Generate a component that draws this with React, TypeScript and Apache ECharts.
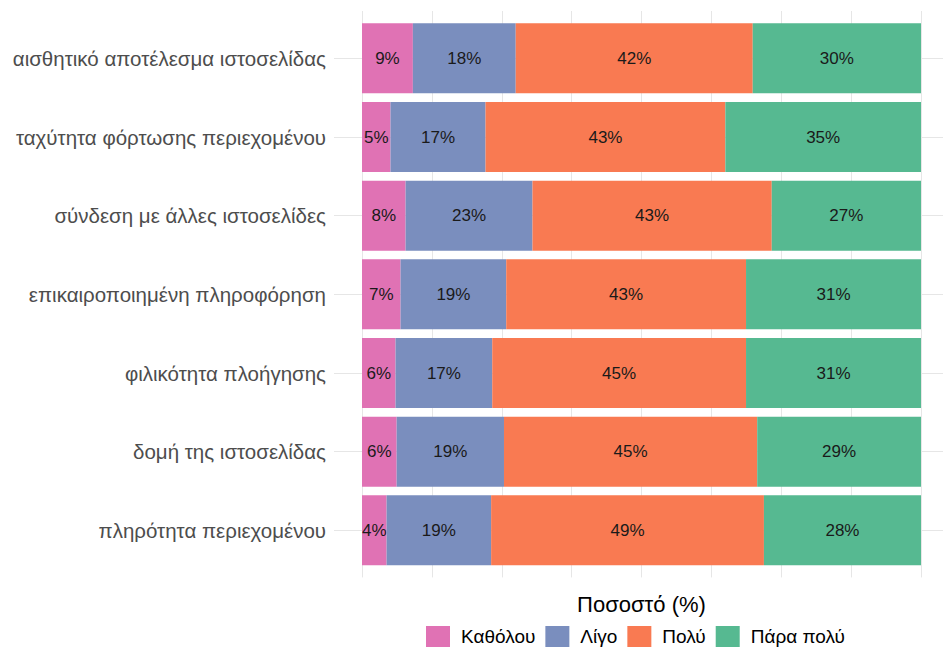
import React, { useEffect, useRef } from "react";
import * as echarts from "echarts";

const categories = [
  "αισθητικό αποτέλεσμα ιστοσελίδας",
  "ταχύτητα φόρτωσης περιεχομένου",
  "σύνδεση με άλλες ιστοσελίδες",
  "επικαιροποιημένη πληροφόρηση",
  "φιλικότητα πλοήγησης",
  "δομή της ιστοσελίδας",
  "πληρότητα περιεχομένου",
];

const levels = ["Καθόλου", "Λίγο", "Πολύ", "Πάρα πολύ"];

const katholou = [9.1, 5.1, 7.8, 6.9, 6.0, 6.2, 4.4];
const ligo = [18.4, 17.0, 22.7, 18.9, 17.3, 19.2, 18.7];
const poly = [42.4, 42.9, 42.8, 42.9, 45.4, 45.3, 48.8];
const paraPoly = [30.1, 35.0, 26.7, 31.3, 31.3, 29.3, 28.1];

const seriesValues = [katholou, ligo, poly, paraPoly];
const colors = ["#E072B4", "#7A8EBE", "#F97A52", "#56B991"];

const xTitle = "Ποσοστό (%)";

const FONT = "'Liberation Sans', Arial, sans-serif";

export default function App() {
  const ref = useRef<HTMLDivElement>(null);
  useEffect(() => {
    if (!ref.current) return;
    const chart = echarts.init(ref.current, null, { renderer: "svg" });
    const gridLineColor = "#e6e6e6";
    const option: any = {
      animation: false,
      backgroundColor: "#ffffff",
      textStyle: { fontFamily: FONT },
      grid: [
        { left: 334, right: 0, top: 19, height: 550.7, containLabel: false },
        { left: 362, width: 559, top: 19, height: 550.7, containLabel: false },
        { left: 362, width: 559, top: 11, height: 566.4, containLabel: false },
      ],
      xAxis: [
        { gridIndex: 0, type: "value", min: 0, max: 1, show: false },
        { gridIndex: 1, type: "value", min: 0, max: 100, show: false },
        {
          gridIndex: 2,
          type: "value",
          min: 0,
          max: 100,
          interval: 12.5,
          axisLine: { show: false },
          axisTick: { show: false },
          axisLabel: { show: false },
          splitLine: { show: true, lineStyle: { color: gridLineColor, width: 1 } },
          name: xTitle,
          nameLocation: "middle",
          nameGap: 16,
          nameTextStyle: { fontSize: 22, color: "#000000", fontFamily: FONT },
        },
      ],
      yAxis: [
        {
          gridIndex: 0,
          type: "category",
          data: categories,
          inverse: true,
          axisLine: { show: false },
          axisTick: { show: false },
          axisLabel: { color: "#4d4d4d", fontSize: 20.5, margin: 8, fontFamily: FONT },
          splitLine: {
            show: true,
            alignWithLabel: true,
            lineStyle: { color: gridLineColor, width: 1 },
          },
        },
        { gridIndex: 1, type: "category", data: categories, inverse: true, show: false },
        { gridIndex: 2, type: "category", data: categories, inverse: true, show: false },
      ],
      legend: {
        data: levels,
        left: 421,
        top: 621,
        orient: "horizontal",
        icon: "rect",
        itemWidth: 24,
        itemHeight: 21,
        itemGap: 10,
        textStyle: { fontSize: 19, color: "#000000", fontFamily: FONT, padding: [0, 0, 0, 6] },
      },
      series: levels.map((name, i) => ({
        name,
        type: "bar",
        stack: "total",
        xAxisIndex: 1,
        yAxisIndex: 1,
        barCategoryGap: "11%",
        itemStyle: { color: colors[i] },
        label: {
          show: true,
          position: "inside",
          color: "#1a1a1a",
          fontSize: 17,
          fontFamily: FONT,
          formatter: (p: any) => Math.round(p.value) + "%",
        },
        data: seriesValues[i],
      })),
    };
    chart.setOption(option);
    return () => chart.dispose();
  }, []);
  return (
    <div
      ref={ref}
      style={{ position: "fixed", left: 0, top: 0, width: 943, height: 648, overflow: "hidden" }}
    />
  );
}
